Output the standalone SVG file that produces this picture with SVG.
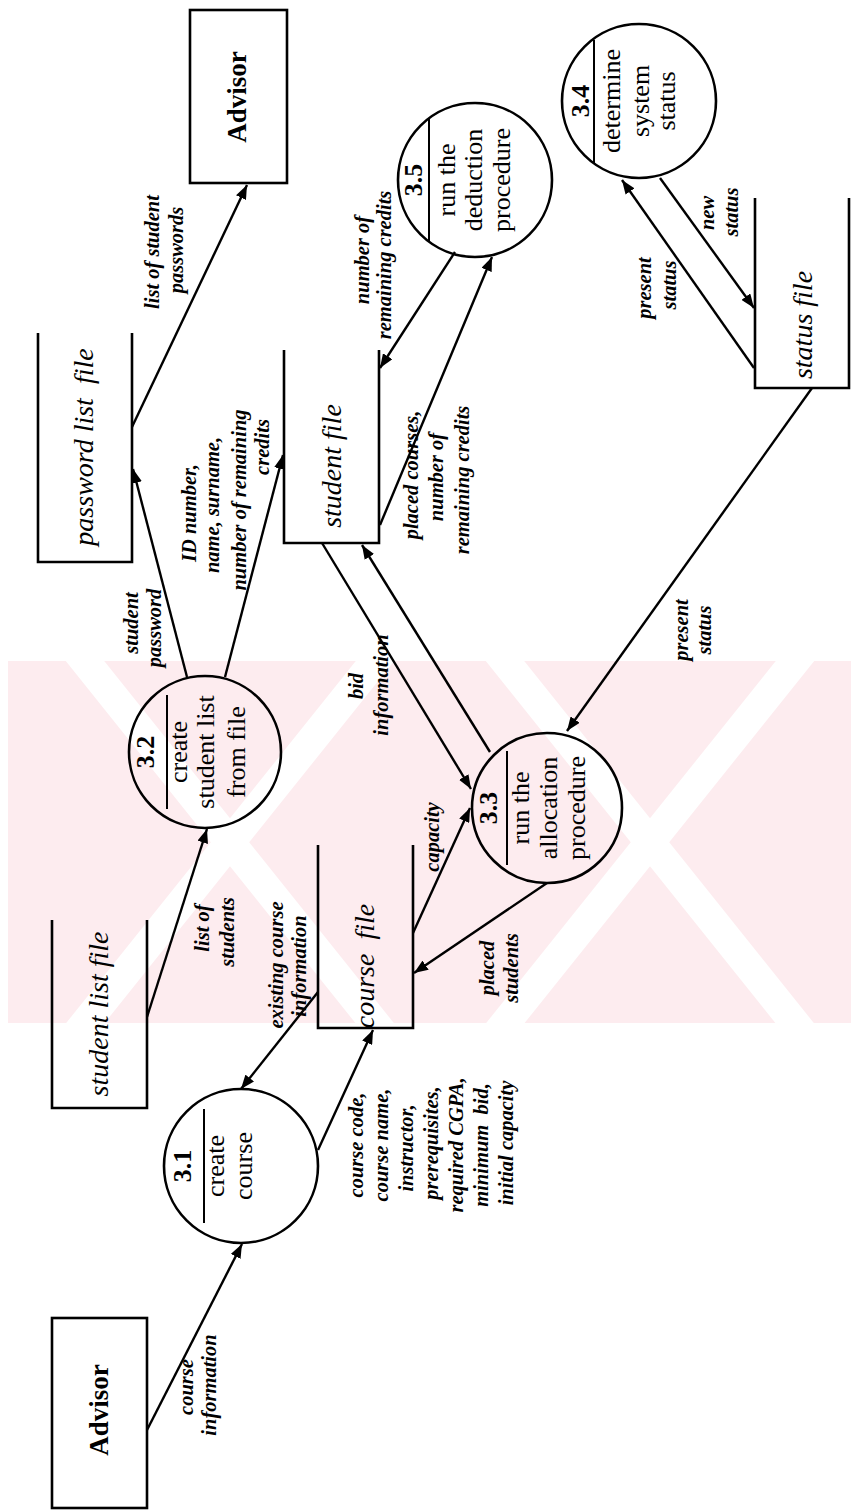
<svg xmlns="http://www.w3.org/2000/svg" width="851" height="1511" viewBox="0 0 851 1511">
  <style>
    .ln { stroke:#000; stroke-width:2.4; fill:none; }
    .shape { stroke:#000; stroke-width:2.6; fill:none; }
    .div { stroke:#000; stroke-width:2; }
    text { font-family:"Liberation Serif", "Times New Roman", serif; text-anchor:middle; fill:#000; }
    .p { font-size:26px; }
    .num { font-size:26px; font-weight:bold; }
    .ent { font-size:27px; font-weight:bold; }
    .store { font-size:28px; font-style:italic; white-space:pre; }
    .lbl { font-size:20.5px; font-style:italic; font-weight:bold; white-space:pre; }
  </style>
  <defs>
    <marker id="arr" markerUnits="userSpaceOnUse" markerWidth="15" markerHeight="11" refX="14" refY="5.5" orient="auto">
      <path d="M0,0 L14,5.5 L0,11 z" fill="#000"/>
    </marker>
    <clipPath id="band"><rect x="8" y="661" width="843" height="362"/></clipPath>
  </defs>

  <rect width="851" height="1511" fill="#fff"/>

  <!-- background watermark band -->
  <g id="watermark" clip-path="url(#band)">
    <rect x="8" y="661" width="843" height="362" fill="#fdecef"/>
    <g stroke="#fff" stroke-width="30">
      <line x1="5" y1="561" x2="485" y2="1161"/>
      <line x1="425" y1="561" x2="905" y2="1161"/>
      <line x1="455" y1="561" x2="-25" y2="1161"/>
      <line x1="875" y1="561" x2="395" y2="1161"/>
    </g>
  </g>

  <!-- data flows -->
  <g id="connectors" class="ln" marker-end="url(#arr)">
    <line x1="147" y1="1430" x2="242" y2="1244"/>
    <line x1="318" y1="1150" x2="373" y2="1030"/>
    <line x1="318" y1="992" x2="241" y2="1089"/>
    <line x1="147" y1="1017" x2="207" y2="829"/>
    <line x1="187" y1="677" x2="133" y2="469"/>
    <line x1="225" y1="677" x2="283" y2="455"/>
    <line x1="132" y1="427" x2="247" y2="185"/>
    <line x1="322" y1="543" x2="471" y2="789"/>
    <line x1="490" y1="752" x2="362" y2="545"/>
    <line x1="413" y1="933" x2="470" y2="808"/>
    <line x1="547" y1="883" x2="414" y2="973"/>
    <line x1="812" y1="388" x2="567" y2="731"/>
    <line x1="455" y1="252" x2="380" y2="368"/>
    <line x1="380" y1="525" x2="492" y2="257"/>
    <line x1="660" y1="178" x2="754" y2="308"/>
    <line x1="754" y1="368" x2="622" y2="180"/>
  </g>

  <!-- flow labels -->
  <g id="flow-labels">
    <text class="lbl" transform="translate(192.5,1387) rotate(-90)">course</text>
    <text class="lbl" transform="translate(215.5,1385) rotate(-90)">information</text>

    <text class="lbl" transform="translate(362.5,1145) rotate(-90)">course code,</text>
    <text class="lbl" transform="translate(387.5,1145) rotate(-90)">course name,</text>
    <text class="lbl" transform="translate(412.5,1148) rotate(-90)">instructor,</text>
    <text class="lbl" transform="translate(437.5,1143) rotate(-90)">prerequisites,</text>
    <text class="lbl" transform="translate(462.5,1145) rotate(-90)">required CGPA,</text>
    <text class="lbl" transform="translate(487.5,1145) rotate(-90)">minimum  bid,</text>
    <text class="lbl" transform="translate(512.5,1143) rotate(-90)">initial capacity</text>

    <text class="lbl" transform="translate(282.5,965) rotate(-90)">existing course</text>
    <text class="lbl" transform="translate(305.5,966) rotate(-90)">information</text>

    <text class="lbl" transform="translate(208.5,928) rotate(-90)">list of</text>
    <text class="lbl" transform="translate(233.5,932) rotate(-90)">students</text>

    <text class="lbl" transform="translate(137.5,623) rotate(-90)">student</text>
    <text class="lbl" transform="translate(160.5,628) rotate(-90)">password</text>

    <text class="lbl" transform="translate(195.5,513) rotate(-90)">ID number,</text>
    <text class="lbl" transform="translate(218.5,505) rotate(-90)">name, surname,</text>
    <text class="lbl" transform="translate(245.5,500) rotate(-90)">number of remaining</text>
    <text class="lbl" transform="translate(268.5,447) rotate(-90)">credits</text>

    <text class="lbl" transform="translate(158.5,252) rotate(-90)">list of student</text>
    <text class="lbl" transform="translate(182.5,250) rotate(-90)">passwords</text>

    <text class="lbl" transform="translate(362.5,686) rotate(-90)">bid</text>
    <text class="lbl" transform="translate(387.5,685) rotate(-90)">information</text>

    <text class="lbl" transform="translate(438.5,837) rotate(-90)">capacity</text>

    <text class="lbl" transform="translate(493.5,968) rotate(-90)">placed</text>
    <text class="lbl" transform="translate(517.5,968) rotate(-90)">students</text>

    <text class="lbl" transform="translate(687.5,630) rotate(-90)">present</text>
    <text class="lbl" transform="translate(710.5,630) rotate(-90)">status</text>

    <text class="lbl" transform="translate(368.5,260) rotate(-90)">number of</text>
    <text class="lbl" transform="translate(390.5,265) rotate(-90)">remaining credits</text>

    <text class="lbl" transform="translate(417.5,475) rotate(-90)">placed courses,</text>
    <text class="lbl" transform="translate(442.5,477) rotate(-90)">number of</text>
    <text class="lbl" transform="translate(468.5,480) rotate(-90)">remaining credits</text>

    <text class="lbl" transform="translate(650.5,288) rotate(-90)">present</text>
    <text class="lbl" transform="translate(675.5,285) rotate(-90)">status</text>

    <text class="lbl" transform="translate(713.5,213) rotate(-90)">new</text>
    <text class="lbl" transform="translate(737.5,212) rotate(-90)">status</text>
  </g>

  <!-- external entities -->
  <g id="advisor-top">
    <rect class="shape" x="190" y="10" width="97" height="173" fill="#fff"/>
    <text class="ent" transform="translate(246,97) rotate(-90)">Advisor</text>
  </g>
  <g id="advisor-bottom">
    <rect class="shape" x="52" y="1318" width="95" height="190" fill="#fff"/>
    <text class="ent" transform="translate(108,1410) rotate(-90)">Advisor</text>
  </g>

  <!-- data stores (open-ended) -->
  <g id="store-password-list">
    <path class="shape" d="M38,333 V562 H132 V333"/>
    <text class="store" transform="translate(92.5,447) rotate(-90)">password list  file</text>
  </g>
  <g id="store-student">
    <path class="shape" d="M284,350 V543 H379 V350"/>
    <text class="store" transform="translate(340.5,466) rotate(-90)">student file</text>
  </g>
  <g id="store-student-list">
    <path class="shape" d="M52,920 V1108 H147 V920"/>
    <text class="store" transform="translate(107.5,1014) rotate(-90)">student list file</text>
  </g>
  <g id="store-course">
    <path class="shape" d="M318,845 V1028 H413 V845"/>
    <text class="store" transform="translate(373.5,966) rotate(-90)">course  file</text>
  </g>
  <g id="store-status">
    <path class="shape" d="M755,198 V388 H849 V198"/>
    <text class="store" transform="translate(812,325) rotate(-90)">status file</text>
  </g>

  <!-- processes -->
  <g id="p3-1">
    <circle class="shape" cx="241" cy="1166" r="77"/>
    <line class="div" x1="204" y1="1109" x2="204" y2="1223"/>
    <text class="num" transform="translate(190.5,1166) rotate(-90)">3.1</text>
    <text class="p" transform="translate(224,1166) rotate(-90)">create</text>
    <text class="p" transform="translate(252,1166) rotate(-90)">course</text>
  </g>
  <g id="p3-2">
    <circle class="shape" cx="205" cy="752" r="76"/>
    <line class="div" x1="167" y1="695" x2="167" y2="809"/>
    <text class="num" transform="translate(154,752) rotate(-90)">3.2</text>
    <text class="p" transform="translate(187,752) rotate(-90)">create</text>
    <text class="p" transform="translate(214,752) rotate(-90)">student list</text>
    <text class="p" transform="translate(245,752) rotate(-90)">from file</text>
  </g>
  <g id="p3-3">
    <circle class="shape" cx="547" cy="808" r="75"/>
    <line class="div" x1="507" y1="751" x2="507" y2="865"/>
    <text class="num" transform="translate(497,808) rotate(-90)">3.3</text>
    <text class="p" transform="translate(529,808) rotate(-90)">run the</text>
    <text class="p" transform="translate(557,808) rotate(-90)">allocation</text>
    <text class="p" transform="translate(585,808) rotate(-90)">procedure</text>
  </g>
  <g id="p3-4">
    <circle class="shape" cx="639" cy="101" r="77"/>
    <line class="div" x1="594" y1="40" x2="594" y2="163"/>
    <text class="num" transform="translate(589,101) rotate(-90)">3.4</text>
    <text class="p" transform="translate(620,101) rotate(-90)">determine</text>
    <text class="p" transform="translate(649,101) rotate(-90)">system</text>
    <text class="p" transform="translate(675,101) rotate(-90)">status</text>
  </g>
  <g id="p3-5">
    <circle class="shape" cx="475" cy="180" r="77"/>
    <line class="div" x1="429" y1="119" x2="429" y2="241"/>
    <text class="num" transform="translate(422,180) rotate(-90)">3.5</text>
    <text class="p" transform="translate(455,180) rotate(-90)">run the</text>
    <text class="p" transform="translate(482,180) rotate(-90)">deduction</text>
    <text class="p" transform="translate(510,180) rotate(-90)">procedure</text>
  </g>
</svg>
